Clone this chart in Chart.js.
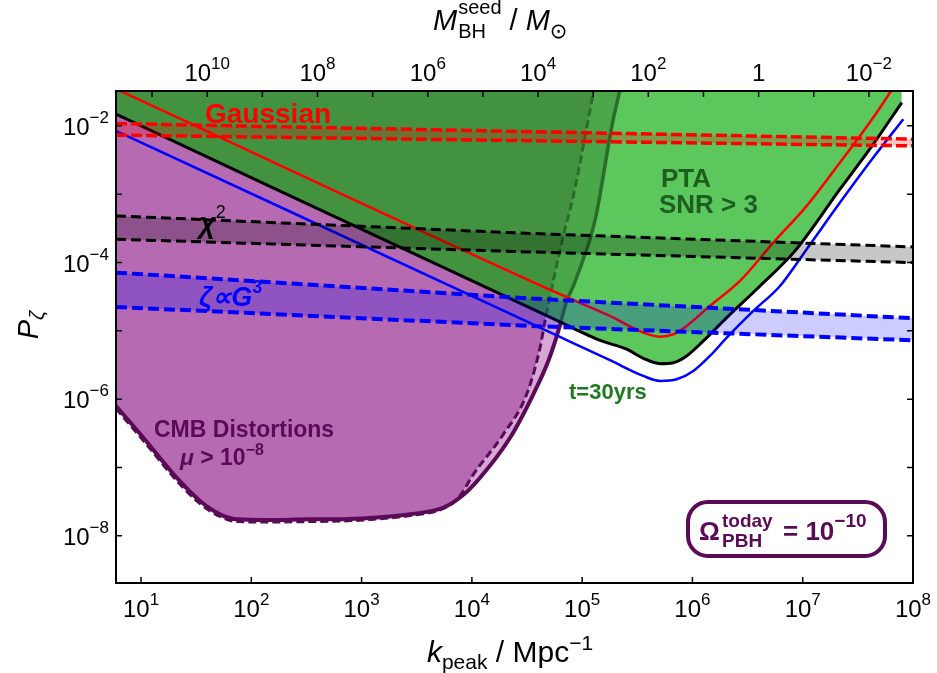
<!DOCTYPE html>
<html>
<head>
<meta charset="utf-8">
<script src="https://cdn.jsdelivr.net/npm/chart.js@4.4.1/dist/chart.umd.min.js"></script>
<style>
  html, body { margin: 0; padding: 0; background: #fff; }
  canvas { display: block; }
</style>
</head>
<body>
<canvas id="c" width="937" height="673"></canvas>
<script>
// ── values, stored as log10(k) and log10(P) ──────────────────────────
const kRange = [0.773, 8];
const pRange = [-8.69, -1.49];
// top axis: log10 M = 13.2 - 2 log10 k
const mRange = [13.2 - 2 * kRange[1], 13.2 - 2 * kRange[0]];

const kTickExp  = [1, 2, 3, 4, 5, 6, 7, 8];
const pTickExp  = [-8, -7, -6, -5, -4, -3, -2];
const pLabelExp = [-8, -6, -4, -2];
const mTickExp  = [11, 10, 9, 8, 7, 6, 5, 4, 3, 2, 1, 0, -1, -2];
const mLabelExp = [10, 8, 6, 4, 2, 0, -2];

// PTA SNR > 3 boundary (black)
const ptaLogK = [0.773, 4.799, 5.162, 5.404, 5.554, 5.706, 5.826, 5.948, 6.099, 6.311, 6.613, 6.930, 7.338, 7.640, 7.898];
const ptaLogP = [-1.829, -4.87, -5.139, -5.269, -5.401, -5.480, -5.466, -5.367, -5.148, -4.807, -4.343, -3.830, -2.927, -2.268, -1.659];

// red and blue solid curves
const redLogK  = [0.773, 4.799, 5.252, 5.555, 5.706, 5.826, 5.948, 6.159, 6.431, 6.733, 7.036, 7.338, 7.640, 7.792, 7.837];
const redLogP  = [-1.46, -4.464, -4.782, -5.026, -5.085, -5.050, -4.928, -4.635, -4.269, -3.709, -3.171, -2.537, -1.878, -1.512, -1.40];
const blueLogK = [0.773, 4.799, 5.252, 5.554, 5.706, 5.857, 6.008, 6.159, 6.311, 6.552, 6.794, 7.036, 7.338, 7.640, 7.912];
const blueLogP = [-2.073, -5.089, -5.43, -5.66, -5.733, -5.709, -5.587, -5.367, -5.100, -4.709, -4.343, -3.805, -3.123, -2.464, -1.902];

// CMB distortion boundary, solid and dashed
const cmbLogK = [0.773, 1.021, 1.323, 1.535, 1.716, 1.867, 2.169, 2.532, 2.831, 3.131, 3.439, 3.738, 3.910, 4.074, 4.346, 4.557, 4.693, 4.784, 4.806, 4.860, 4.920, 5.010, 5.071, 5.132, 5.186, 5.237, 5.282, 5.337, 5.352];
const cmbLogP = [-6.100, -6.564, -7.149, -7.490, -7.685, -7.758, -7.769, -7.758, -7.758, -7.732, -7.685, -7.589, -7.417, -7.149, -6.564, -5.928, -5.441, -5.001, -4.870, -4.562, -4.343, -3.952, -3.659, -3.269, -2.780, -2.293, -1.902, -1.512, -1.385];
const cmbDashLogK = [0.773, 1.021, 1.323, 1.535, 1.716, 1.867, 2.169, 2.532, 2.831, 3.131, 3.439, 3.738, 3.880, 4.013, 4.285, 4.497, 4.618, 4.663, 4.673, 4.736, 4.829, 4.920, 5.010, 5.101, 5.116];
const cmbDashLogP = [-6.136, -6.605, -7.190, -7.527, -7.717, -7.791, -7.798, -7.791, -7.783, -7.754, -7.703, -7.601, -7.44, -7.101, -6.514, -5.928, -5.246, -4.855, -4.776, -4.284, -3.611, -3.025, -2.293, -1.512, -1.385];
const cmbCrossK  = 4.806;  // solid curve meets the PTA line
const dashCrossK = 4.673;  // dashed curve meets the PTA line
const dashFromK  = 3.7;    // dashed curve sits inside the solid one from here on

// bands (dashed pairs)
const bandLogK    = [0.773, 8];
const gaussTopP   = [-1.966, -2.195];
const gaussBotP   = [-2.136, -2.293];
const band3LogK   = [0.773, 4.527, 8];
const chiTopP     = [-3.318, -3.574, -3.772];
const chiBotP     = [-3.659, -3.845, -4.001];
const g3TopP      = [-4.148, -4.526, -4.816];
const g3BotP      = [-4.650, -4.928, -5.138];

// ── helpers ─────────────────────────────────────────────────────────
const F = '"Liberation Sans", Arial, sans-serif';
const PURPLE = '#5a0a57', DKGREEN = '#2b6b2b';

const pick = (ks, ps, test) => {
  const K = [], P = [];
  ks.forEach((k, i) => { if (test(k)) { K.push(k); P.push(ps[i]); } });
  return [K, P];
};
const line = (ks, ps, o) => Object.assign({
  data: ks.map((k, i) => ({ x: 10 ** k, y: 10 ** ps[i] })),
  pointRadius: 0, pointHoverRadius: 0, tension: 0, fill: false, clip: 0,
  borderColor: 'rgba(0,0,0,0)', borderWidth: 0
}, o);
const smooth = { cubicInterpolationMode: 'monotone' };

const [cmbPurK, cmbPurP]   = pick(cmbLogK, cmbLogP, k => k <= cmbCrossK);
const [cmbGrnK, cmbGrnP]   = pick(cmbLogK, cmbLogP, k => k >= cmbCrossK);
const [dashPurK, dashPurP] = pick(cmbDashLogK, cmbDashLogP, k => k <= dashCrossK);
const [dashGrnK, dashGrnP] = pick(cmbDashLogK, cmbDashLogP, k => k >= dashCrossK);
const [lA, pA] = pick(cmbLogK, cmbLogP, k => k < dashFromK);
const [lB, pB] = pick(cmbDashLogK, cmbDashLogP, k => k >= dashFromK);
const purpleK = lA.concat(lB), purpleP = pA.concat(pB);
const ovSolidK = [ptaLogK[0]].concat(cmbGrnK), ovSolidP = [ptaLogP[0]].concat(cmbGrnP);
const ovDashK  = [ptaLogK[0]].concat(dashGrnK), ovDashP  = [ptaLogP[0]].concat(dashGrnP);

// bottom → top
const layers = [
  line(cmbLogK, cmbLogP, { ...smooth, fill: 'end', backgroundColor: '#d6a9d4' }),
  line(purpleK, purpleP, { ...smooth, fill: 'end', backgroundColor: '#b56ab2' }),
  line(ptaLogK, ptaLogP, { ...smooth, fill: 'end', backgroundColor: '#5cc75c' }),
  line(ovSolidK, ovSolidP, { fill: 'end', backgroundColor: '#4aa74a' }),
  line(ovDashK, ovDashP, { fill: 'end', backgroundColor: '#43923f' }),
  line(dashPurK, dashPurP, { ...smooth, borderColor: PURPLE, borderWidth: 3, borderDash: [8, 4] }),
  line(dashGrnK, dashGrnP, { ...smooth, borderColor: DKGREEN, borderWidth: 3, borderDash: [8, 4] }),
  line(cmbPurK, cmbPurP, { ...smooth, borderColor: PURPLE, borderWidth: 4 }),
  line(cmbGrnK, cmbGrnP, { ...smooth, borderColor: DKGREEN, borderWidth: 3.5 }),
  line(blueLogK, blueLogP, { ...smooth, borderColor: '#0000ff', borderWidth: 2.5 }),
  line(redLogK, redLogP, { ...smooth, borderColor: '#ff0000', borderWidth: 2.5 }),
  line(ptaLogK, ptaLogP, { ...smooth, borderColor: '#000', borderWidth: 3 }),
  line(bandLogK, gaussTopP, { borderColor: '#ff0000', borderWidth: 3.5, borderDash: [11, 4], fill: '+1', backgroundColor: 'rgba(255,0,0,0.22)' }),
  line(bandLogK, gaussBotP, { borderColor: '#ff0000', borderWidth: 3.5, borderDash: [11, 4] }),
  line(band3LogK, chiTopP, { borderColor: '#000', borderWidth: 3, borderDash: [10, 5], fill: '+1', backgroundColor: 'rgba(0,0,0,0.22)' }),
  line(band3LogK, chiBotP, { borderColor: '#000', borderWidth: 3, borderDash: [10, 5] }),
  line(band3LogK, g3TopP, { borderColor: '#0000ff', borderWidth: 4, borderDash: [11, 5], fill: '+1', backgroundColor: 'rgba(0,0,255,0.2)' }),
  line(band3LogK, g3BotP, { borderColor: '#0000ff', borderWidth: 4, borderDash: [11, 5] })
];
layers.forEach((d, i) => { d.order = layers.length - i; });

const sup = e => (e < 0 ? '\u2212' + (-e) : String(e));
function rich(ctx, x, y, parts, align) {
  let w = 0;
  for (const p of parts) { ctx.font = p[1]; w += ctx.measureText(p[0]).width; }
  let cx = align === 'center' ? x - w / 2 : align === 'right' ? x - w : x;
  for (const p of parts) {
    ctx.font = p[1];
    ctx.fillText(p[0], cx, y + (p[2] || 0));
    cx += ctx.measureText(p[0]).width;
  }
  return cx;
}
const expLabel = e => e === 0 ? [['1', '24px ' + F]] : [['10', '24px ' + F], [sup(e), '17px ' + F, -12]];

// ── frame, inward ticks, labels and annotations ─────────────────────
const decor = {
  id: 'decor',
  afterDatasetsDraw(chart) {
    const { ctx, chartArea: a, scales } = chart;
    const xs = scales.x, ys = scales.y, ms = scales.m;
    ctx.save();
    ctx.strokeStyle = '#000';
    ctx.lineWidth = 2;
    ctx.strokeRect(a.left, a.top, a.right - a.left, a.bottom - a.top);

    ctx.lineWidth = 1.5;
    ctx.beginPath();
    kTickExp.forEach(e => { const x = xs.getPixelForValue(10 ** e); ctx.moveTo(x, a.bottom); ctx.lineTo(x, a.bottom - 6); });
    mTickExp.forEach(e => { const x = ms.getPixelForValue(10 ** e); ctx.moveTo(x, a.top); ctx.lineTo(x, a.top + 6); });
    pTickExp.forEach(e => {
      const y = ys.getPixelForValue(10 ** e);
      ctx.moveTo(a.left, y); ctx.lineTo(a.left + 6, y);
      ctx.moveTo(a.right, y); ctx.lineTo(a.right - 6, y);
    });
    ctx.stroke();

    ctx.fillStyle = '#000';
    ctx.textAlign = 'left';
    ctx.textBaseline = 'alphabetic';
    kTickExp.forEach(e => rich(ctx, xs.getPixelForValue(10 ** e), a.bottom + 34, expLabel(e), 'center'));
    pLabelExp.forEach(e => rich(ctx, a.left - 7, ys.getPixelForValue(10 ** e) + 9, expLabel(e), 'right'));
    mLabelExp.forEach(e => rich(ctx, ms.getPixelForValue(10 ** e), a.top - 10, expLabel(e), 'center'));

    // axis titles
    rich(ctx, 510, 662, [['k', 'italic 30px ' + F], ['peak', '21px ' + F, 7], [' / Mpc', '30px ' + F], ['\u22121', '21px ' + F, -12]], 'center');
    ctx.font = 'italic 29px ' + F;
    let tx = 433;
    ctx.fillText('M', tx, 30);
    tx += ctx.measureText('M').width + 1;
    ctx.font = '20px ' + F;
    ctx.fillText('seed', tx, 14);
    ctx.fillText('BH', tx, 38);
    tx += ctx.measureText('seed').width;
    tx = rich(ctx, tx, 30, [[' / ', '29px ' + F], ['M', 'italic 29px ' + F]], 'left');
    ctx.font = '21px "DejaVu Sans", ' + F;
    ctx.fillText('\u2299', tx, 38);
    ctx.save();
    ctx.translate(38, 325);
    ctx.rotate(-Math.PI / 2);
    rich(ctx, 0, 0, [['P', 'italic 29px ' + F], ['\u03b6', 'italic 20px ' + F, 6]], 'center');
    ctx.restore();

    // annotations
    ctx.fillStyle = '#ff0000';
    ctx.font = 'bold 28px ' + F;
    ctx.fillText('Gaussian', 205, 123);
    ctx.fillStyle = '#000';
    rich(ctx, 199, 233, [['\u03c7', 'bold italic 29px ' + F], ['2', '18px ' + F, -15]], 'left');
    ctx.fillStyle = '#0000ff';
    rich(ctx, 199, 306, [['\u03b6\u221dG', 'bold italic 27px ' + F], ['3', 'bold 18px ' + F, -13]], 'left');
    ctx.fillStyle = '#1e5e1e';
    ctx.font = 'bold 26px ' + F;
    ctx.fillText('PTA', 661, 187);
    ctx.fillText('SNR > 3', 659, 213);
    ctx.fillStyle = '#1f7a1f';
    ctx.font = 'bold 22px ' + F;
    ctx.fillText('t=30yrs', 569, 399);
    ctx.fillStyle = PURPLE;
    ctx.font = 'bold 23px ' + F;
    ctx.fillText('CMB Distortions', 154, 437);
    rich(ctx, 180, 465, [['\u03bc', 'bold italic 23px ' + F], [' > 10', 'bold 23px ' + F], ['\u22128', 'bold 16px ' + F, -10]], 'left');

    // Omega box
    ctx.beginPath();
    ctx.roundRect(688, 502, 197, 54, 20);
    ctx.fillStyle = '#fff';
    ctx.fill();
    ctx.lineWidth = 4;
    ctx.strokeStyle = PURPLE;
    ctx.stroke();
    ctx.fillStyle = PURPLE;
    ctx.font = 'bold 26px ' + F;
    ctx.fillText('\u03a9', 699, 540);
    ctx.font = 'bold 19px ' + F;
    ctx.fillText('today', 722, 527);
    ctx.fillText('PBH', 722, 547);
    rich(ctx, 783, 540, [['= 10', 'bold 26px ' + F], ['\u221210', 'bold 19px ' + F, -13]], 'left');
    ctx.restore();
  }
};

new Chart(document.getElementById('c'), {
  type: 'line',
  data: { datasets: layers },
  options: {
    responsive: false, animation: false, devicePixelRatio: 1,
    layout: { padding: { left: 116, top: 91, right: 24, bottom: 90 } },
    plugins: { legend: { display: false }, tooltip: { enabled: false } },
    scales: {
      x: { type: 'logarithmic', min: 10 ** kRange[0], max: 10 ** kRange[1], display: false },
      y: { type: 'logarithmic', min: 10 ** pRange[0], max: 10 ** pRange[1], display: false },
      m: { type: 'logarithmic', axis: 'x', position: 'top', reverse: true, min: 10 ** mRange[0], max: 10 ** mRange[1], display: false }
    }
  },
  plugins: [decor]
});
</script>
</body>
</html>
